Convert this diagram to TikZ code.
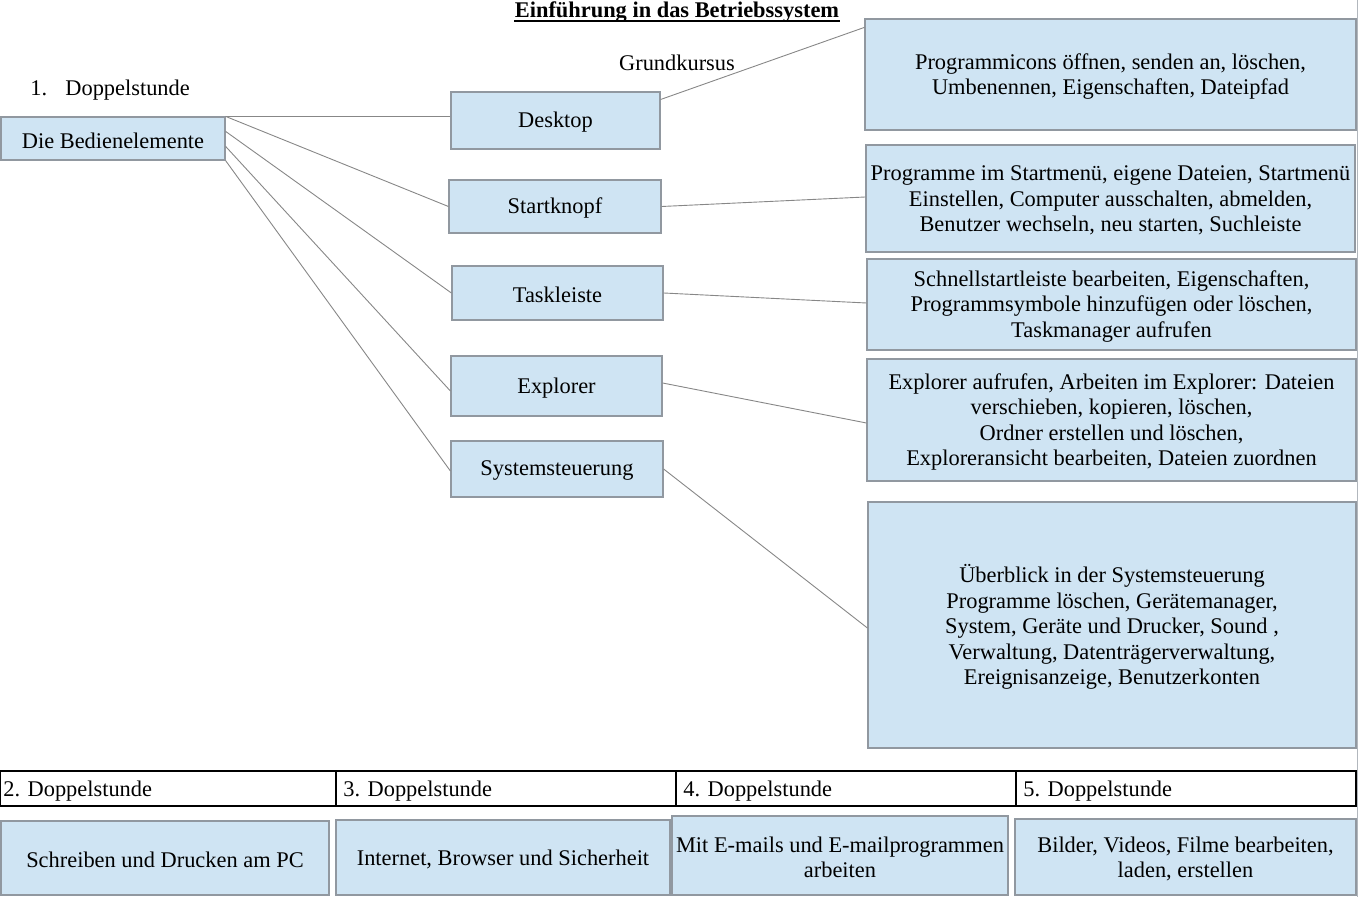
\documentclass[tikz,border=0pt]{standalone}
\usepackage{fontspec}
\setmainfont{Liberation Serif}
\usetikzlibrary{calc}
\definecolor{boxfill}{RGB}{207,228,243}
\definecolor{boxline}{RGB}{145,152,160}
\definecolor{conn}{RGB}{135,135,135}
\newcommand\bx[5]{%
  \node[box, minimum width=#3, minimum height=#4] (#1) at (#2) {};
  \node[boxtext] (#1-t) at (#1) {#5};}
\begin{document}
\begin{tikzpicture}[x=0.5pt,y=-0.5pt,
  every node/.style={font=\fontsize{11.2}{12.75}\selectfont, inner sep=0pt},
  box/.style={draw=boxline, line width=0.6pt, fill=boxfill},
  boxtext/.style={align=center, yshift=-1pt},
  conline/.style={draw=conn, line width=0.45pt},
  tabline/.style={draw=black, line width=0.6pt},
  lbl/.style={anchor=west}]
\useasboundingbox (0,0) rectangle (1361,897);
% page border line on the right
\draw[draw=boxline!70, line width=0.45pt] (1357,0) -- (1357,897);
% titles
\node[anchor=base] (title) at (677,18) {\textbf{Einführung in das Betriebssystem}};
\draw[line width=0.55pt] ($(title.base west)+(0,3)$) -- ($(title.base east)+(0,3)$);
\node (grund) at (677,63) {Grundkursus};
\node[lbl] (ds1) at (30,90) {\makebox[17.5pt][l]{1.}Doppelstunde};
% left node
\bx{bed}{113,138.5}{112pt}{21.5pt}{Die Bedienelemente}
% middle nodes
\bx{desk}{555.5,120.5}{104.5pt}{28.5pt}{Desktop}
\bx{start}{555,206.5}{106pt}{26.5pt}{Startknopf}
\bx{task}{557.5,293}{105.5pt}{27pt}{Taskleiste}
\bx{expl}{556.5,386}{105.5pt}{30pt}{Explorer}
\bx{sys}{557,469}{106pt}{28pt}{Systemsteuerung}
% right nodes
\bx{r1}{1110.5,74.5}{245.5pt}{55.5pt}
  {Programmicons öffnen, senden an, löschen,\\Umbenennen, Eigenschaften, Dateipfad}
\bx{r2}{1110.5,198.5}{244.5pt}{53.5pt}
  {Programme im Startmenü, eigene Dateien, Startmenü\\Einstellen, Computer ausschalten, abmelden,\\Benutzer wechseln, neu starten, Suchleiste}
\bx{r3}{1111.5,304.5}{244.5pt}{45.5pt}
  {Schnellstartleiste bearbeiten, Eigenschaften,\\Programmsymbole hinzufügen oder löschen,\\Taskmanager aufrufen}
\bx{r4}{1111.5,420}{244.5pt}{61pt}
  {Explorer aufrufen, Arbeiten im Explorer: Dateien\\verschieben, kopieren, löschen,\\Ordner erstellen und löschen,\\Exploreransicht bearbeiten, Dateien zuordnen}
\bx{r5}{1112,625}{244pt}{123pt}
  {Überblick in der Systemsteuerung\\Programme löschen, Gerätemanager,\\System, Geräte und Drucker, Sound ,\\Verwaltung, Datenträgerverwaltung,\\Ereignisanzeige, Benutzerkonten}
% connectors left
\draw[conline] (bed.north east) -- (desk.west |- bed.north east);
\draw[conline] (bed.north east) -- (start.west);
\draw[conline] ($(bed.north east)+(0,15)$) -- (task.west);
\draw[conline] ($(bed.north east)+(0,30)$) -- ($(expl.west)+(0,5)$);
\draw[conline] (bed.south east) -- ($(sys.west)+(0,2)$);
% connectors right
\draw[conline] ($(desk.east)+(0,-21)$) -- ($(r1.north west)+(0,9)$);
\draw[conline] (start.east) -- ($(r2.west)+(0,-1.5)$);
\draw[conline] (task.east) -- ($(r3.west)+(0,-1.5)$);
\draw[conline] ($(expl.east)+(0,-3)$) -- ($(r4.west)+(0,3)$);
\draw[conline] (sys.east) -- ($(r5.west)+(0,3)$);
% table
\draw[tabline] (0.6,771) rectangle (1356,806);
\draw[tabline] (336,771) -- (336,806);
\draw[tabline] (676,771) -- (676,806);
\draw[tabline] (1016,771) -- (1016,806);
\node[lbl] (t2) at (3,791) {2. Doppelstunde};
\node[lbl] (t3) at (343,791) {3. Doppelstunde};
\node[lbl] (t4) at (683,791) {4. Doppelstunde};
\node[lbl] (t5) at (1023,791) {5. Doppelstunde};
% bottom boxes
\bx{b1}{165,858}{164pt}{37pt}{Schreiben und Drucken am PC}
\bx{b2}{503,857.5}{167pt}{37.5pt}{Internet, Browser und Sicherheit}
\bx{b3}{840,855.5}{168pt}{39.5pt}{Mit E-mails und E-mailprogrammen\\arbeiten}
\bx{b4}{1185.5,857}{170.5pt}{38pt}{Bilder, Videos, Filme bearbeiten,\\laden, erstellen}
\end{tikzpicture}
\end{document}
